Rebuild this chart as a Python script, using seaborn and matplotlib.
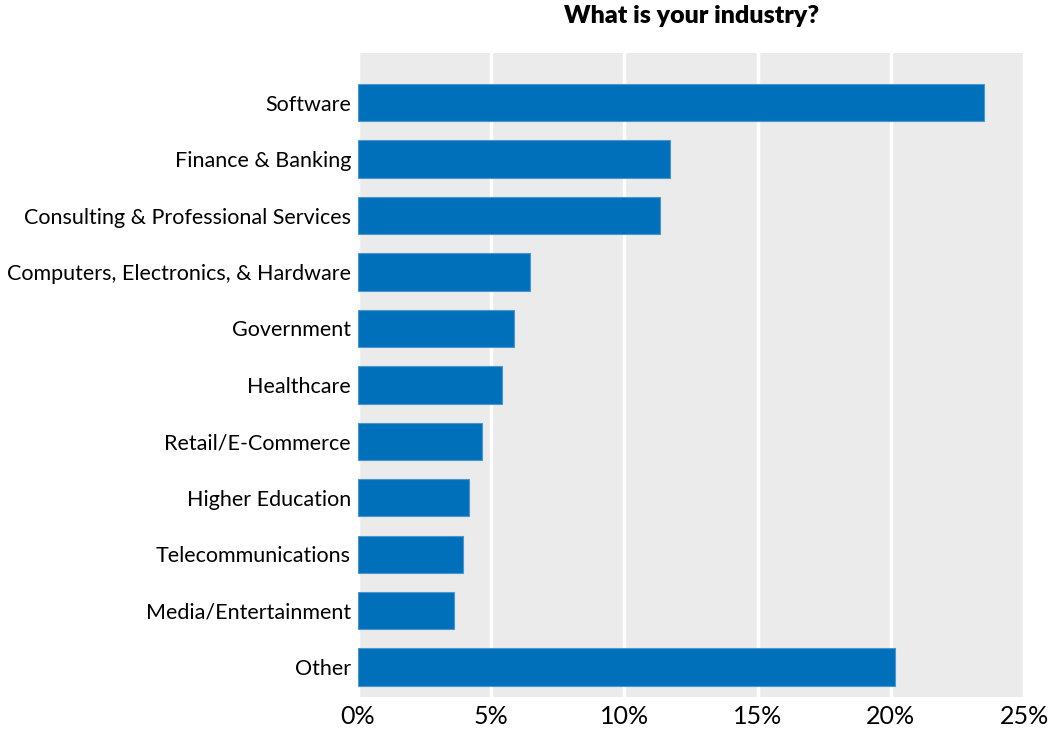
import matplotlib
matplotlib.use("Agg")
import matplotlib.pyplot as plt
import seaborn as sns
import pandas as pd
from matplotlib.ticker import PercentFormatter

# Survey data
industries = ["Software", "Finance & Banking", "Consulting & Professional Services",
              "Computers, Electronics, & Hardware", "Government", "Healthcare",
              "Retail/E-Commerce", "Higher Education", "Telecommunications",
              "Media/Entertainment", "Other"]
shares = [23.5, 11.7, 11.35, 6.45, 5.85, 5.4, 4.65, 4.15, 3.95, 3.6, 20.15]
x_ticks = [0, 5, 10, 15, 20, 25]

df = pd.DataFrame({"industry": industries, "share": shares})

sns.set_style("darkgrid", {"axes.facecolor": "#ebebeb", "grid.color": "white"})
plt.rcParams["font.family"] = ["Lato", "DejaVu Sans"]

fig = plt.figure(figsize=(10.48, 7.32), dpi=100)
ax = fig.add_axes([0.3416, 0.0478, 0.6355, 0.8798])

sns.barplot(data=df, x="share", y="industry", color="#0070bb", saturation=1,
            width=0.66, edgecolor="#4a97d0", linewidth=0.8, ax=ax)

ax.set_xlim(0, 25)
ax.set_ylim(10.53, -0.88)
ax.set_xticks(x_ticks)
ax.xaxis.set_major_formatter(PercentFormatter(decimals=0))
ax.grid(axis="y", visible=False)
ax.grid(axis="x", color="white", linewidth=2.5)
ax.set_axisbelow(True)
for s in ax.spines.values():
    s.set_visible(False)
ax.tick_params(axis="y", length=0, labelsize=15.5, colors="black", pad=5)
ax.tick_params(axis="x", length=0, labelsize=18, colors="black", pad=6)
ax.set_xlabel("")
ax.set_ylabel("")
fig.text(0.66, 0.978, "What is your industry?", ha="center", va="center",
         fontsize=18, fontweight="heavy", color="black")

fig.savefig("out.png", dpi=100)
